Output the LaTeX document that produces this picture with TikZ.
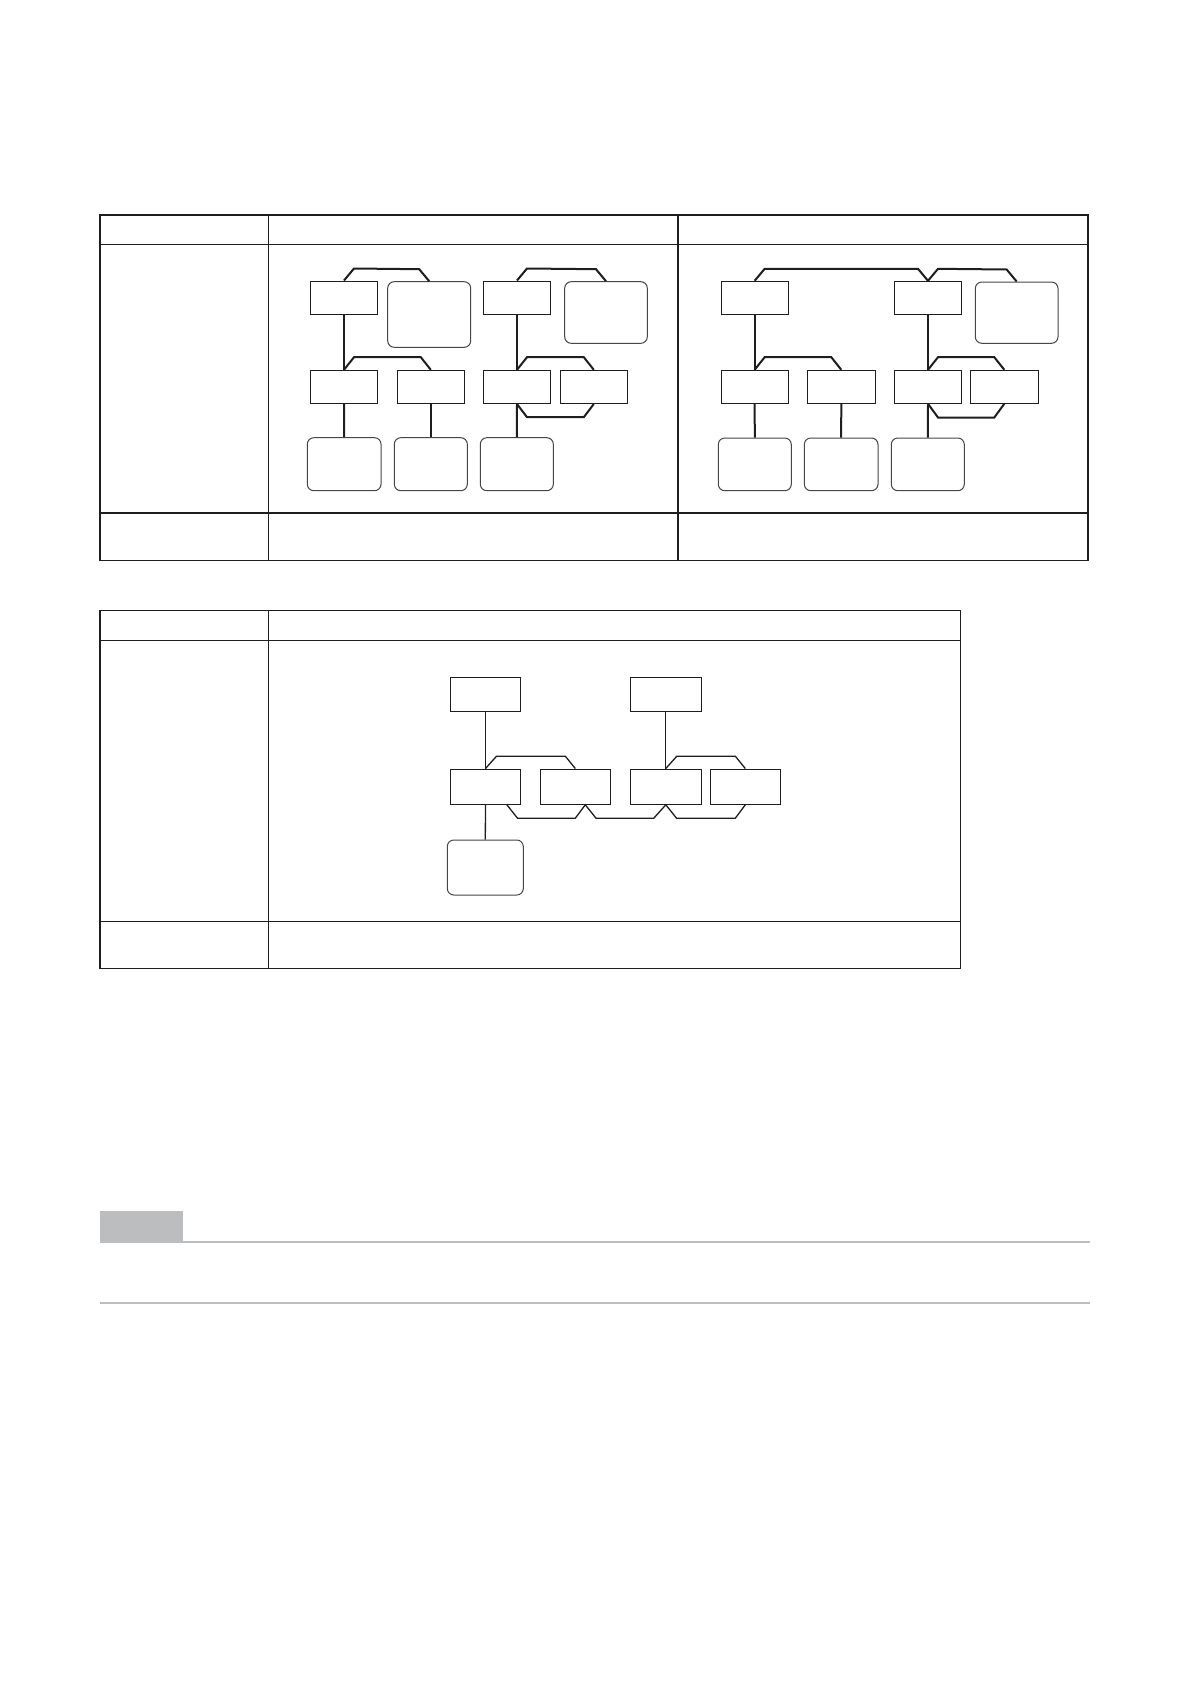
\documentclass[tikz,border=0pt]{standalone}
\definecolor{ink}{RGB}{30,30,30}
\definecolor{softink}{RGB}{70,70,70}
\definecolor{rulegray}{RGB}{188,189,190}
\tikzset{
  rectbox/.style={draw=ink, line width=1pt, inner sep=0pt, fill=white},
  roundbox/.style={draw=softink, line width=1pt, inner sep=0pt, rounded corners=6.5pt, fill=white},
  conn/.style={draw=ink, line width=2pt, line join=miter},
  thinconn/.style={draw=ink, line width=1.3pt, line join=miter},
  tableline/.style={draw=ink, line width=1.4pt},
}
\newcommand\placebox[6]{\node[#6, minimum width={(#4-#2)*1pt}, minimum height={(#5-#3)*1pt}] (#1) at ({(#2+#4)/2},{(#3+#5)/2}) {};}
\begin{document}
\begin{tikzpicture}[x=1pt,y=-1pt]
\useasboundingbox (0,0) rectangle (1190,1684);

% ---------- Table 1 ----------
\draw[tableline] (100,215) rectangle (1088,560.3);
\draw[tableline] (100,244.5) -- (1088,244.5);
\draw[tableline] (100,513) -- (1088,513);
\draw[tableline] (268.5,215) -- (268.5,560.3);
\draw[tableline] (678,215) -- (678,560.3);

% ---------- Table 2 ----------
\draw[tableline] (100,610.5) rectangle (960.3,968.3);
\draw[tableline] (100,640.3) -- (960.3,640.3);
\draw[tableline] (100,921.3) -- (960.3,921.3);
\draw[tableline] (268.5,610.5) -- (268.5,968.3);

% ---------- Left diagram (table 1, column 2) ----------
\placebox{la}{310.5}{281}{377.5}{314}{rectbox}
\placebox{lc}{387.7}{281.7}{470.7}{347.3}{roundbox}
\placebox{lb}{483.5}{281}{550.5}{314}{rectbox}
\placebox{lcc}{564.7}{281.7}{647.3}{343.3}{roundbox}
\placebox{ld}{310.5}{370.3}{377.5}{403.5}{rectbox}
\placebox{le}{397.3}{370.3}{464.3}{403.5}{rectbox}
\placebox{lf}{483.5}{370.3}{550.5}{403.5}{rectbox}
\placebox{lg}{560.3}{370.3}{627.3}{403.5}{rectbox}
\placebox{lh}{307.3}{437.7}{381}{490.7}{roundbox}
\placebox{li}{394.3}{437.7}{467.3}{490.7}{roundbox}
\placebox{lj}{480.3}{437.7}{553.3}{490.7}{roundbox}

\draw[conn] (la.north) -- ++(10,-12) -- ([shift={(-10,-12)}]lc.north) -- (lc.north);
\draw[conn] (lb.north) -- ++(10,-12) -- ([shift={(-10,-12)}]lcc.north) -- (lcc.north);
\draw[conn] (la.south) -- (ld.north);
\draw[conn] (lb.south) -- (lf.north);
\draw[conn] (ld.north) -- ++(10,-12.6) -- ([shift={(-10,-12.6)}]le.north) -- (le.north);
\draw[conn] (lf.north) -- ++(10,-12.6) -- ([shift={(-10,-12.6)}]lg.north) -- (lg.north);
\draw[conn] (lf.south) -- ++(10,13.2) -- ([shift={(-10,13.2)}]lg.south) -- (lg.south);
\draw[conn] (ld.south) -- (lh.north);
\draw[conn] (le.south) -- (li.north);
\draw[conn] (lf.south) -- (lj.north);

% ---------- Right diagram (table 1, column 3) ----------
\placebox{ra}{721}{281.3}{788.3}{314.3}{rectbox}
\placebox{rb}{894.3}{281.3}{961.7}{314.3}{rectbox}
\placebox{rc}{975.3}{282}{1058}{343.3}{roundbox}
\placebox{rd}{721}{370.3}{788.3}{403.3}{rectbox}
\placebox{re}{807.3}{370.3}{875.3}{403.3}{rectbox}
\placebox{rf}{894.3}{370.3}{961.7}{403.3}{rectbox}
\placebox{rg}{970.3}{370.3}{1038.3}{403.3}{rectbox}
\placebox{rh}{718.3}{438}{791.3}{490.7}{roundbox}
\placebox{ri}{804.3}{438}{878}{490.7}{roundbox}
\placebox{rj}{891.3}{438}{964.3}{490.7}{roundbox}

\draw[conn] (ra.north) -- ++(10,-12) -- ([shift={(-10,-12)}]rb.north) -- (rb.north);
\draw[conn] (rb.north) -- ++(10,-12) -- ([shift={(-10,-12)}]rc.north) -- (rc.north);
\draw[conn] (ra.south) -- (rd.north);
\draw[conn] (rb.south) -- (rf.north);
\draw[conn] (rd.north) -- ++(10,-12.6) -- ([shift={(-10,-12.6)}]re.north) -- (re.north);
\draw[conn] (rf.north) -- ++(10,-12.6) -- ([shift={(-10,-12.6)}]rg.north) -- (rg.north);
\draw[conn] (rf.south) -- ++(10,13.7) -- ([shift={(-10,13.7)}]rg.south) -- (rg.south);
\draw[conn] (rd.south) -- (rh.north);
\draw[conn] (re.south) -- (ri.north);
\draw[conn] (rf.south) -- (rj.north);

% ---------- Table 2 diagram ----------
\placebox{pa}{450.3}{677.3}{520.7}{711.7}{rectbox}
\placebox{pb}{630.3}{677.3}{701.3}{711.7}{rectbox}
\placebox{qa}{450.3}{769}{520.7}{804.3}{rectbox}
\placebox{qb}{540.3}{769}{610.3}{804.3}{rectbox}
\placebox{qc}{630.3}{769}{701.3}{804.3}{rectbox}
\placebox{qd}{710.3}{769}{780.3}{804.3}{rectbox}
\placebox{qr}{447.3}{840}{523.3}{895}{roundbox}

\draw[thinconn] (pa.south) -- (qa.north);
\draw[thinconn] (pb.south) -- (qc.north);
\draw[thinconn] (qa.south) -- (qr.north);
\draw[thinconn] (qa.north) -- ++(11,-12.3) -- ([shift={(-10,-12.3)}]qb.north) -- (qb.north);
\draw[thinconn] (qc.north) -- ++(11,-12.3) -- ([shift={(-10,-12.3)}]qd.north) -- (qd.north);
\coordinate (qaend) at ([shift={(21.4,0)}]qa.south);
\coordinate (qbend) at ([shift={(10,0)}]qb.south);
\draw[thinconn] (qaend) -- ++(10.6,13.4) -- ([shift={(-10,13.4)}]qbend) -- (qbend)
  -- ++(10.7,13.4) -- ([shift={(-12,13.4)}]qc.south) -- (qc.south)
  -- ++(10.7,13.4) -- ([shift={(-10,13.4)}]qd.south) -- (qd.south);

% ---------- Gray heading bar ----------
\fill[rulegray] (100,1210.7) rectangle (182.7,1242.3);
\draw[rulegray, line width=2pt] (100,1242) -- (1090,1242);
\draw[rulegray, line width=2pt] (100,1302.7) -- (1090,1302.7);
\end{tikzpicture}
\end{document}
